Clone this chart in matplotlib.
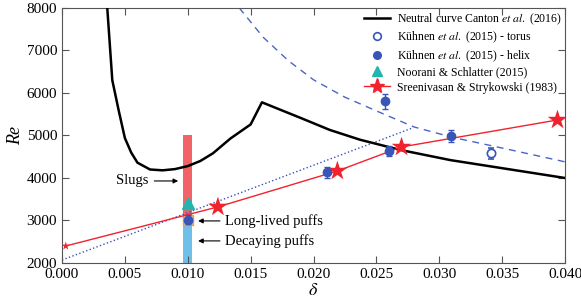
import numpy as np
import matplotlib.pyplot as plt
from matplotlib.lines import Line2D

plt.rcParams['font.family'] = ['Liberation Serif', 'DejaVu Serif']
plt.rcParams['mathtext.fontset'] = 'stix'

# neutral curve (Canton et al. 2016)
canton_d = [0.0036, 0.0040, 0.0045, 0.0050, 0.0055, 0.0060, 0.0070, 0.0080, 0.0090,
            0.0100, 0.0110, 0.0120, 0.0134, 0.0150, 0.0159, 0.0190, 0.0213, 0.0237,
            0.0269, 0.0309, 0.0348, 0.0400]
canton_re = [8000, 6300, 5600, 4940, 4600, 4360, 4200, 4180, 4210, 4280, 4400, 4580,
             4930, 5260, 5780, 5410, 5130, 4900, 4660, 4420, 4240, 4000]

# blue dashed fit
dash_d = [0.0141, 0.0160, 0.0180, 0.0200, 0.0225, 0.0253, 0.0280, 0.0310, 0.0332, 0.0360, 0.0400]
dash_re = [8000, 7310, 6760, 6310, 5900, 5540, 5200, 4960, 4820, 4640, 4380]

# blue dotted fit
dot_d = [0.0, 0.0279]
dot_re = [2070, 5180]

# Sreenivasan & Strykowski (1983)
ss_d = [0.0003, 0.0124, 0.0219, 0.0270, 0.0394]
ss_re = [2400, 3320, 4165, 4730, 5365]
ss_size = [40, 220, 220, 220, 220]

# Kuhnen et al. (2015)
helix_d = [0.0100, 0.0211, 0.0260, 0.0257, 0.0309]
helix_re = [3020, 4140, 4640, 5800, 4990]
helix_err = [100, 130, 120, 170, 140]
torus_d = [0.0341]
torus_re = [4580]
torus_err = [130]

# Noorani & Schlatter (2015)
ns_d = [0.0100]
ns_re = [3410]

fig = plt.figure(figsize=(5.81, 3.06), dpi=100)
ax = fig.add_axes([0.1067, 0.1405, 0.8658, 0.8335])

# bars at delta = 0.01
ax.bar(0.0100, 5000 - 3050, bottom=3050, width=0.0007, color='#f26367', zorder=1)
ax.bar(0.0100, 3050 - 2000, bottom=2000, width=0.0007, color='#6ec0ea', zorder=1)
ax.plot(0.0100, 3020, 's', ms=7, mfc='#f4b183', mec='#e8a040', zorder=2)

ax.plot(dot_d, dot_re, ':', color='#3a4fc0', lw=1.0, zorder=2)
ax.plot(dash_d, dash_re, '--', color='#4a64c8', lw=1.0, dashes=(5, 4), zorder=2)
ax.plot(canton_d, canton_re, '-', color='black', lw=1.8, zorder=3)
ax.plot(ss_d, ss_re, '-', color='#f0222e', lw=1.0, zorder=3)
ax.scatter(ss_d, ss_re, s=ss_size, marker='*', color='#f0222e', zorder=4, linewidths=0)

ax.errorbar(torus_d, torus_re, yerr=torus_err, fmt='o', ms=6, mfc='white', mec='#3a55b8',
            ecolor='#3a55b8', elinewidth=1, capsize=2, mew=1.2, zorder=5)
ax.errorbar(helix_d, helix_re, yerr=helix_err, fmt='o', ms=6, mfc='#3a55b8', mec='#3a55b8',
            ecolor='#3a55b8', elinewidth=1, capsize=2, zorder=5)
ax.plot(ns_d, ns_re, '^', ms=8, color='#22b5b0', zorder=5)

# annotations
arrow = dict(arrowstyle='-|>', color='black', lw=0.8, mutation_scale=7)
ax.annotate('Slugs', xy=(0.00946, 3930), xytext=(0.0069, 3930), fontsize=10.5,
            ha='right', va='center', arrowprops=arrow)
ax.annotate('Long-lived puffs', xy=(0.0106, 2990), xytext=(0.0130, 2990), fontsize=10.5,
            ha='left', va='center', arrowprops=arrow)
ax.annotate('Decaying puffs', xy=(0.0106, 2520), xytext=(0.0130, 2520), fontsize=10.5,
            ha='left', va='center', arrowprops=arrow)

ax.set_xlim(0, 0.040)
ax.set_ylim(2000, 8000)
ax.set_xticks(np.arange(0, 0.0401, 0.005))
ax.set_xticklabels(['%.3f' % v for v in np.arange(0, 0.0401, 0.005)])
ax.set_yticks(range(2000, 8001, 1000))
ax.tick_params(direction='in', top=True, right=True, labelsize=11, length=5, color='#555555')
for s in ax.spines.values():
    s.set_color('#555555')
ax.set_xlabel(r'$\delta$', fontsize=13, labelpad=1)
ax.set_ylabel('Re', fontsize=13, style='italic', labelpad=2)

handles = [
    Line2D([], [], color='black', lw=1.8),
    Line2D([], [], marker='o', ls='none', ms=5.5, mfc='white', mec='#3a55b8', mew=1.2),
    Line2D([], [], marker='o', ls='none', ms=5.5, color='#3a55b8'),
    Line2D([], [], marker='^', ls='none', ms=7, color='#22b5b0'),
    Line2D([], [], marker='*', color='#f0222e', lw=1.0, ms=11),
]
labels = [
    'Neutral curve Canton $\\it{et\\ al.}$ (2016)',
    'Kühnen $\\it{et\\ al.}$ (2015) - torus',
    'Kühnen $\\it{et\\ al.}$ (2015) - helix',
    'Noorani & Schlatter (2015)',
    'Sreenivasan & Strykowski (1983)',
]
ax.legend(handles, labels, loc='upper right', frameon=False, fontsize=8.5,
          handlelength=2.2, handletextpad=0.6, labelspacing=0.25,
          borderaxespad=0.1, borderpad=0.2)

fig.savefig('out.png', dpi=100)
